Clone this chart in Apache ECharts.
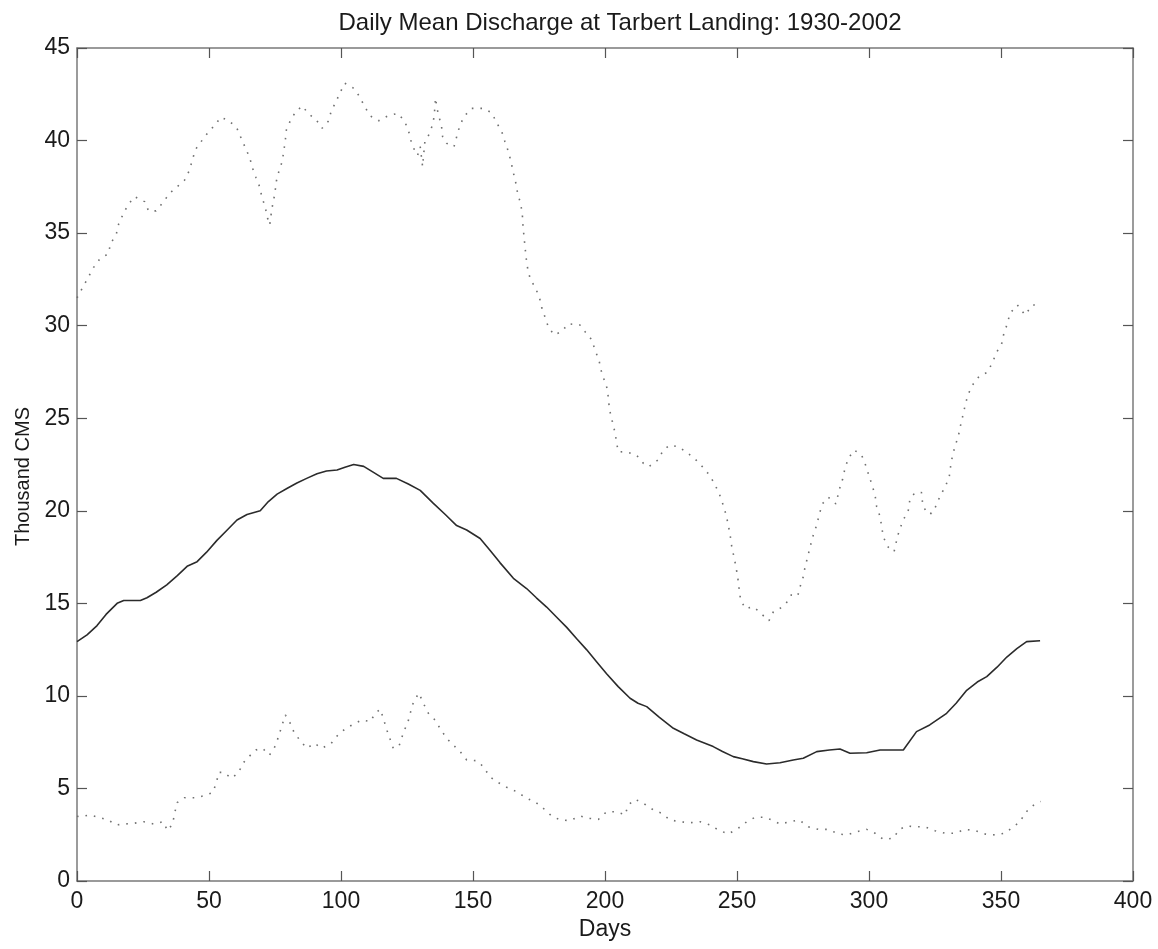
<!DOCTYPE html>
<html>
<head>
<meta charset="utf-8">
<title>Daily Mean Discharge at Tarbert Landing: 1930-2002</title>
<script src="https://cdn.jsdelivr.net/npm/echarts@6/dist/echarts.min.js"></script>
<style>
  html, body { margin: 0; padding: 0; background: #ffffff; }
  #chart { width: 1158px; height: 949px; }
</style>
</head>
<body>
<div id="chart"></div>
<script>
// Day of year and discharge (thousand m^3/s)
const meanDays = [0, 3.8, 7.6, 11, 15.2, 17.7, 24, 26.5, 30, 34, 38, 41.7, 45.5, 49, 53, 56.8, 60.6, 64.4, 69.4, 72.5, 75.8, 79.5, 83.3, 87, 90.9, 94.5, 98.5, 101.5, 104.8, 108.6, 112, 116, 121, 125.5, 130, 135, 139.5, 143.8, 147.6, 152.7, 156.5, 160.2, 165.3, 170.3, 174, 177.9, 181.7, 185.5, 189.2, 193, 196.8, 200.6, 205, 209.5, 212.5, 215.8, 220.5, 225.9, 230, 234.7, 241, 244.5, 248.6, 252, 256.2, 261.2, 266.3, 271.3, 275.1, 280.2, 285, 289, 292.8, 299.1, 304.2, 313, 318, 323, 329.4, 333, 337, 341, 344.6, 348.5, 352.2, 356, 359.7, 364.8];
const meanFlow = [12.93, 13.3, 13.8, 14.4, 15.0, 15.15, 15.15, 15.3, 15.6, 16.0, 16.5, 17.0, 17.25, 17.75, 18.4, 18.95, 19.5, 19.8, 20.0, 20.5, 20.9, 21.2, 21.5, 21.75, 22.0, 22.15, 22.2, 22.35, 22.5, 22.4, 22.1, 21.75, 21.75, 21.45, 21.1, 20.4, 19.8, 19.2, 18.96, 18.5, 17.85, 17.2, 16.35, 15.8, 15.3, 14.8, 14.25, 13.7, 13.1, 12.5, 11.85, 11.2, 10.5, 9.87, 9.6, 9.42, 8.85, 8.25, 7.95, 7.62, 7.26, 7.0, 6.72, 6.6, 6.45, 6.32, 6.39, 6.54, 6.63, 6.99, 7.08, 7.13, 6.9, 6.93, 7.08, 7.08, 8.07, 8.43, 9.06, 9.6, 10.3, 10.75, 11.04, 11.55, 12.1, 12.55, 12.93, 12.98];

const maxDays = [0, 2.3, 4.4, 6.3, 8.6, 12, 12.6, 14.9, 15.8, 17.4, 19.2, 21.8, 25.6, 27.1, 29.9, 32.8, 35.1, 37.9, 40.8, 42.5, 43.6, 44.8, 47, 49.6, 52, 54.5, 57.7, 60.6, 62.2, 63.8, 65.4, 66.5, 67.8, 69.2, 70, 71.3, 72.2, 73, 73.8, 74.9, 75.5, 76.4, 77.7, 78.3, 78.9, 79.3, 80.8, 83, 85.5, 87.4, 90.5, 92.8, 95.3, 96.3, 98.1, 99.7, 101.4, 104.5, 107.1, 108.8, 111.1, 114.3, 117.7, 121.5, 124, 125.5, 126.5, 127.8, 129, 130, 130.9, 131.8, 133.7, 134.7, 135.3, 135.8, 136.5, 138.1, 138.5, 140, 142.8, 143.8, 145, 146.6, 149.5, 153.9, 157.1, 159, 160.9, 162.1, 163.4, 164.4, 165.3, 166.2, 166.9, 168.1, 168.7, 168.9, 169.3, 169.7, 170.1, 170.7, 171.6, 173.5, 175.1, 176, 177.3, 178.5, 180.7, 183.6, 186.1, 190.5, 192.4, 195, 196.2, 197.7, 198.5, 199.7, 201, 201.3, 201.9, 202.8, 203.8, 204.4, 205, 208.5, 212, 214.5, 216.6, 220, 222.1, 224.5, 227.8, 231, 234.1, 237.1, 239.7, 241.7, 243.4, 244.7, 245.8, 246.7, 247.4, 248, 248.8, 249.6, 250.3, 250.8, 251.3, 253, 256.4, 259.3, 262.1, 263.8, 266.3, 268.6, 270.5, 273, 273.9, 275.1, 275.8, 276.8, 277.7, 278.9, 280.2, 281.1, 282.3, 284.6, 287.5, 288.7, 290, 290.9, 292.2, 294.4, 297.2, 298.7, 301, 302.3, 302.9, 304.2, 304.8, 305.4, 307.1, 309.5, 310.5, 311.5, 313, 314.9, 315.5, 317.4, 319.9, 320.3, 321.8, 323.7, 325.6, 326.9, 328.8, 330.4, 330.9, 331.6, 332.6, 333.8, 334.7, 335.7, 336.6, 337.6, 339.5, 341.8, 344.6, 346.7, 348.1, 350.3, 351.1, 352.4, 353.4, 356.2, 359.1, 361.9, 365];
const maxFlow = [31.5, 32.1, 32.65, 33.15, 33.6, 33.9, 34.4, 34.95, 35.5, 36.0, 36.5, 36.97, 36.7, 36.2, 36.2, 36.7, 37.15, 37.5, 37.87, 38.37, 38.9, 39.5, 39.94, 40.43, 40.8, 41.26, 41.06, 40.66, 40.12, 39.6, 39.08, 38.5, 38.0, 37.5, 36.97, 36.4, 35.8, 35.44, 36.3, 37.1, 37.8, 38.3, 38.86, 39.4, 40.0, 40.57, 41.07, 41.6, 41.87, 41.47, 41.15, 40.66, 41.06, 41.6, 42.1, 42.6, 43.1, 42.86, 42.37, 41.87, 41.33, 41.07, 41.33, 41.47, 41.07, 40.57, 40.0, 39.5, 39.2, 39.67, 38.6, 40.0, 40.4, 40.9, 41.3, 42.3, 41.65, 40.75, 40.2, 39.85, 39.67, 40.2, 40.8, 41.3, 41.74, 41.74, 41.5, 40.95, 40.48, 39.94, 39.4, 38.86, 38.26, 37.72, 37.15, 36.57, 35.98, 35.44, 34.85, 34.27, 33.69, 33.1, 32.56, 32.07, 31.57, 30.99, 30.45, 29.95, 29.5, 29.68, 30.1, 30.04, 29.68, 29.23, 28.69, 28.15, 27.6, 27.07, 26.53, 25.95, 25.35, 24.81, 24.22, 23.68, 23.19, 23.17, 23.0, 22.57, 22.38, 22.74, 23.28, 23.55, 23.46, 23.15, 22.8, 22.35, 21.9, 21.4, 20.87, 20.34, 19.82, 19.23, 18.69, 18.08, 17.54, 16.98, 16.38, 15.8, 15.25, 14.73, 14.8, 14.42, 14.06, 14.55, 14.73, 15.0, 15.45, 15.4, 15.9, 16.44, 16.98, 17.52, 18.06, 18.69, 19.23, 19.77, 20.37, 20.73, 20.37, 21.12, 21.7, 22.29, 22.84, 23.28, 23.01, 22.47, 21.45, 20.85, 20.22, 19.68, 19.14, 18.6, 18.06, 17.79, 18.42, 18.96, 19.5, 20.04, 20.62, 20.98, 20.98, 20.4, 19.86, 19.86, 20.31, 20.8, 21.27, 21.84, 22.38, 22.96, 23.5, 24.0, 24.63, 25.23, 25.81, 26.31, 26.85, 27.28, 27.46, 27.97, 28.5, 29.05, 29.59, 30.1, 30.67, 31.12, 30.58, 31.12, 31.1];

const minDays = [0, 1.3, 4.8, 8.2, 11.7, 14.9, 18.3, 21.7, 25.3, 29, 32.6, 34.3, 36.2, 37, 37.9, 40.7, 44.8, 47.7, 51.4, 52.8, 53.7, 55.6, 58.5, 61.2, 62.8, 65.7, 67.8, 70.3, 72.9, 75.1, 76.4, 77.7, 78.9, 80.6, 82.1, 84.6, 87.1, 89.9, 92.8, 96.3, 99.1, 101.6, 104.5, 108, 111.1, 113, 114.9, 116.2, 117.5, 119.8, 122, 123.8, 125.4, 126.3, 127.5, 129.5, 131.2, 133.1, 135.6, 137.5, 140, 142.5, 145.1, 147.6, 151.4, 153.9, 156.4, 159, 162.8, 166.6, 170.3, 173.5, 176.6, 179.8, 183, 186.7, 190.5, 194.3, 197.5, 200.6, 204.4, 207.6, 208.8, 211.4, 214.5, 218.3, 221.5, 224.6, 228.4, 232.2, 236, 239.8, 242.9, 246.7, 250.5, 253.7, 256.8, 260.6, 263.8, 266.3, 270.1, 273.6, 277, 280.8, 284.6, 288.4, 291.8, 295.3, 299.1, 302.3, 305.4, 309.2, 311.5, 314.3, 317.4, 321.2, 325, 328.8, 332.6, 336.4, 340.2, 343.9, 347.7, 351.5, 354.7, 357.2, 359.1, 360.9, 362.9, 365];
const minFlow = [3.5, 3.47, 3.57, 3.44, 3.3, 3.03, 3.08, 3.12, 3.2, 3.08, 3.2, 2.72, 3.08, 3.66, 4.23, 4.5, 4.5, 4.59, 4.77, 5.31, 5.87, 5.87, 5.55, 5.85, 6.36, 6.8, 7.08, 7.17, 6.8, 7.29, 7.83, 8.43, 8.97, 8.57, 8.07, 7.56, 7.17, 7.44, 7.17, 7.44, 7.94, 8.21, 8.46, 8.7, 8.61, 9.06, 9.28, 8.7, 8.1, 7.17, 7.3, 8.07, 8.61, 9.1, 9.69, 10.15, 9.6, 9.06, 8.7, 8.25, 7.71, 7.35, 6.99, 6.54, 6.5, 6.18, 5.63, 5.36, 5.06, 4.82, 4.47, 4.28, 3.93, 3.51, 3.3, 3.26, 3.51, 3.38, 3.33, 3.74, 3.74, 3.57, 4.1, 4.41, 4.2, 3.84, 3.66, 3.3, 3.2, 3.15, 3.2, 3.03, 2.76, 2.54, 2.85, 3.2, 3.44, 3.44, 3.26, 3.08, 3.2, 3.3, 2.93, 2.79, 2.79, 2.54, 2.49, 2.66, 2.79, 2.58, 2.25, 2.31, 2.79, 2.97, 2.93, 2.93, 2.72, 2.58, 2.58, 2.79, 2.72, 2.54, 2.49, 2.58, 2.93, 3.2, 3.66, 3.93, 4.16, 4.3];

const titleText = 'Daily Mean Discharge at Tarbert Landing: 1930-2002';
const xName = 'Days';
const yName = 'Thousand CMS';

const pairs = (xs, ys) => xs.map((x, i) => [x, ys[i]]);

const FONT = '"Liberation Sans", Arial, Helvetica, sans-serif';
const TEXT_COLOR = '#1a1a1a';
const axisLineStyle = { color: '#7a7a7a', width: 1.5 };
const tickStyle = { show: true, inside: true, length: 10, lineStyle: { color: '#555', width: 1.2 } };

const chart = echarts.init(document.getElementById('chart'), null, { renderer: 'canvas' });

chart.setOption({
  animation: false,
  backgroundColor: '#ffffff',
  title: {
    text: titleText,
    left: 615,
    top: 6,
    textAlign: 'center',
    textStyle: { fontFamily: FONT, fontSize: 24, fontWeight: 'normal', color: TEXT_COLOR }
  },
  grid: { left: 77, right: 25, top: 48, bottom: 68, containLabel: false },
  xAxis: [
    {
      type: 'value', min: 0, max: 400, interval: 50,
      name: xName, nameLocation: 'middle', nameGap: 37,
      nameTextStyle: { fontFamily: FONT, fontSize: 23, color: TEXT_COLOR },
      axisLine: { show: true, onZero: false, lineStyle: axisLineStyle },
      axisTick: tickStyle,
      axisLabel: { fontFamily: FONT, fontSize: 23, color: TEXT_COLOR, margin: 9 },
      splitLine: { show: false }
    },
    {
      type: 'value', position: 'top', min: 0, max: 400, interval: 50,
      axisLine: { show: true, onZero: false, lineStyle: axisLineStyle },
      axisTick: tickStyle,
      axisLabel: { show: false },
      splitLine: { show: false }
    }
  ],
  yAxis: [
    {
      type: 'value', min: 0, max: 45, interval: 5,
      name: yName, nameLocation: 'middle', nameGap: 42, nameRotate: 90,
      nameTextStyle: { fontFamily: FONT, fontSize: 20, color: TEXT_COLOR, padding: [0, 24, 0, 0] },
      axisLine: { show: true, onZero: false, lineStyle: axisLineStyle },
      axisTick: tickStyle,
      axisLabel: { fontFamily: FONT, fontSize: 23, color: TEXT_COLOR, margin: 7 },
      splitLine: { show: false }
    },
    {
      type: 'value', position: 'right', min: 0, max: 45, interval: 5,
      axisLine: { show: true, onZero: false, lineStyle: axisLineStyle },
      axisTick: tickStyle,
      axisLabel: { show: false },
      splitLine: { show: false }
    }
  ],
  series: [
    {
      name: 'Maximum',
      type: 'line',
      data: pairs(maxDays, maxFlow),
      showSymbol: false,
      lineStyle: { color: '#707070', width: 1.6, type: [1.6, 7] }
    },
    {
      name: 'Mean',
      type: 'line',
      data: pairs(meanDays, meanFlow),
      showSymbol: false,
      lineStyle: { color: '#2b2b2b', width: 1.6, type: 'solid' }
    },
    {
      name: 'Minimum',
      type: 'line',
      data: pairs(minDays, minFlow),
      showSymbol: false,
      lineStyle: { color: '#707070', width: 1.6, type: [1.6, 7] }
    }
  ]
});
</script>
</body>
</html>
